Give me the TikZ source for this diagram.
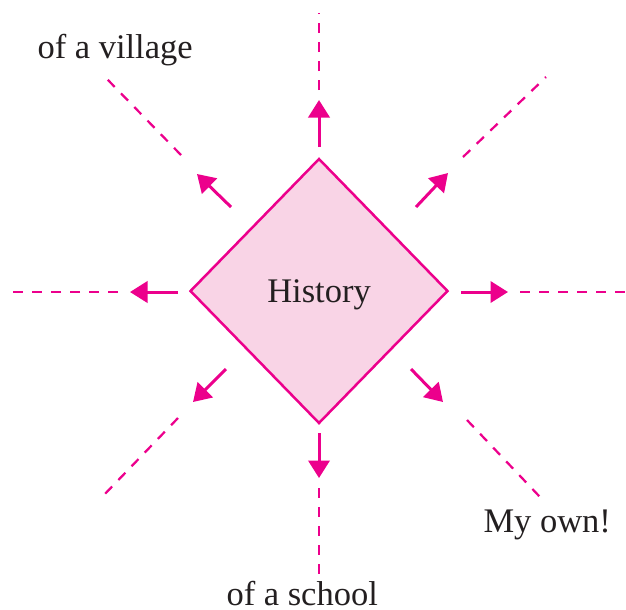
\documentclass[tikz,border=0pt]{standalone}
\usepackage{fontspec}
\setmainfont{Liberation Serif}
\usetikzlibrary{arrows.meta,shapes.geometric}
\definecolor{Rose}{HTML}{EC008C}
\definecolor{Blush}{HTML}{F9D4E6}
\definecolor{Ink}{HTML}{231F20}

\begin{document}
\begin{tikzpicture}[x=0.4pt,y=-0.4pt,
    pointer/.style={Rose,line width=1.2pt,-{Triangle[length=7pt,width=8.5pt]}},
    trail/.style={Rose,line width=0.9pt,dash pattern=on 4pt off 3.6pt},
    lbl/.style={anchor=base west,inner sep=0pt,text=Ink,font=\fontsize{13.8pt}{16pt}\selectfont}]
        \useasboundingbox (0,0) rectangle (626,609);
        % the centre piece
        \node[diamond,aspect=1,draw=Rose,line width=1pt,fill=Blush,
              minimum width=103.2pt,minimum height=106pt,inner sep=0pt,text depth=0pt,
              text=Ink,font=\fontsize{13.8pt}{16pt}\selectfont] (hist) at (319,291) {History};
        % arrows going out, each followed by a dashed trail
        \foreach \n/\s/\t/\d/\e in {
          up/{319,147}/{319,100}/{319,90}/{319,13},
          dn/{319,433}/{319,478}/{319,488}/{319,575},
          lf/{178,292}/{130,292}/{118,292}/{10,292},
          rt/{461,292}/{508,292}/{520,292}/{626,292},
          ul/{231,207}/{197,174}/{181,155}/{107,79},
          ur/{416,207}/{448,173}/{463,157}/{546,77},
          ll/{226,369}/{193,402}/{178,418}/{102,497},
          lr/{411,369}/{443,402}/{467,420}/{540,497}}
          {
            \coordinate (\n-s) at (\s);
            \coordinate (\n-t) at (\t);
            \coordinate (\n-d) at (\d);
            \coordinate (\n-e) at (\e);
            \draw[pointer] (\n-s) -- (\n-t);
            \draw[trail] (\n-d) -- (\n-e);
          }
        \node[lbl] (village) at (37,58) {of a village};
        \node[lbl] (mine) at (483,532) {My own!};
        \node[lbl] (school) at (226,605) {of a school};
\end{tikzpicture}
\end{document}
